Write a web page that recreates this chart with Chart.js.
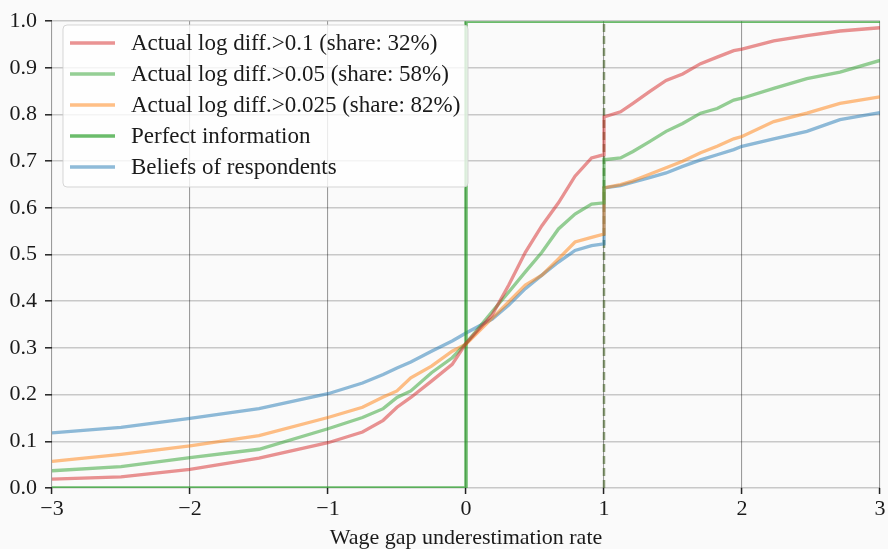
<!DOCTYPE html>
<html>
<head>
<meta charset="utf-8">
<script src="https://cdn.jsdelivr.net/npm/chart.js@4/dist/chart.umd.min.js"></script>
<style>
  html, body { margin: 0; padding: 0; background: #fafafa; }
  #wrap { width: 888px; height: 549px; position: relative; }
</style>
</head>
<body>
<div id="wrap"><canvas id="c" width="888" height="549"></canvas></div>
<script>
// ---- data ----
const xs = [-3, -2.5, -2, -1.5, -1, -0.75, -0.6, -0.5, -0.4, -0.25, -0.1, 0, 0.19, 0.31, 0.43, 0.55, 0.67, 0.79, 0.91, 1, 1, 1.12, 1.21, 1.33, 1.45, 1.57, 1.7, 1.82, 1.94, 2.0, 2.23, 2.47, 2.71, 3];
const diff10 = [0.019, 0.024, 0.040, 0.064, 0.097, 0.120, 0.145, 0.173, 0.194, 0.229, 0.265, 0.310, 0.371, 0.435, 0.505, 0.562, 0.611, 0.668, 0.707, 0.714, 0.795, 0.806, 0.824, 0.849, 0.873, 0.887, 0.909, 0.923, 0.937, 0.940, 0.958, 0.969, 0.979, 0.986];
const diff05 = [0.037, 0.046, 0.065, 0.083, 0.127, 0.151, 0.170, 0.194, 0.208, 0.247, 0.279, 0.310, 0.378, 0.420, 0.463, 0.505, 0.555, 0.587, 0.608, 0.611, 0.703, 0.707, 0.721, 0.742, 0.764, 0.781, 0.803, 0.813, 0.831, 0.835, 0.856, 0.877, 0.891, 0.916];
const diff025 = [0.057, 0.072, 0.090, 0.112, 0.151, 0.173, 0.195, 0.208, 0.236, 0.261, 0.293, 0.308, 0.364, 0.399, 0.435, 0.456, 0.491, 0.527, 0.537, 0.544, 0.643, 0.650, 0.658, 0.672, 0.686, 0.700, 0.718, 0.732, 0.748, 0.753, 0.785, 0.803, 0.824, 0.838];
const beliefs = [0.118, 0.130, 0.149, 0.170, 0.202, 0.225, 0.243, 0.257, 0.270, 0.293, 0.315, 0.332, 0.362, 0.392, 0.427, 0.456, 0.484, 0.509, 0.519, 0.523, 0.643, 0.648, 0.655, 0.665, 0.675, 0.689, 0.703, 0.714, 0.725, 0.732, 0.748, 0.764, 0.789, 0.804];
const perfectX = [-3, 0, 0, 3];
const perfectY = [0, 0, 1, 1];
const markerX = [1, 1];
const markerY = [0, 1];
const labels = [
  'Actual log diff.>0.1 (share: 32%)',
  'Actual log diff.>0.05 (share: 58%)',
  'Actual log diff.>0.025 (share: 82%)',
  'Perfect information',
  'Beliefs of respondents'
];
const xTicks = [-3, -2, -1, 0, 1, 2, 3];
const yTicks = [0, 0.1, 0.2, 0.3, 0.4, 0.5, 0.6, 0.7, 0.8, 0.9, 1.0];
const xTitle = 'Wage gap underestimation rate';

// ---- chart ----
const FONT = "'Liberation Serif', 'DejaVu Serif', serif";
const pts = (xa, ya) => xa.map((x, i) => ({ x: x, y: ya[i] }));

const colors = {
  red: 'rgba(214,39,40,0.5)',
  green: 'rgba(44,160,44,0.5)',
  orange: 'rgba(255,127,14,0.5)',
  perfect: 'rgba(44,160,44,0.7)',
  blue: 'rgba(31,119,180,0.5)',
  marker: 'rgba(70,100,40,0.6)'
};

const ds = (label, data, color, extra) => Object.assign({
  label: label, data: data, borderColor: color, backgroundColor: color,
  borderWidth: 3.3, pointRadius: 0, showLine: true, fill: false, tension: 0
}, extra || {});

const datasets = [
  ds(labels[0], pts(xs, diff10), colors.red),
  ds(labels[1], pts(xs, diff05), colors.green),
  ds(labels[2], pts(xs, diff025), colors.orange),
  ds(labels[3], pts(perfectX, perfectY), colors.perfect, { borderWidth: 3.5 }),
  ds(labels[4], pts(xs, beliefs), colors.blue),
  ds('', pts(markerX, markerY), colors.marker, { borderWidth: 2.5, borderDash: [8, 4], inLegend: false })
];

const legendPlugin = {
  id: 'innerLegend',
  afterDatasetsDraw(chart) {
    const ctx = chart.ctx;
    const x0 = 63, y0 = 25, w = 405, h = 162, r = 4;
    ctx.save();
    ctx.beginPath();
    ctx.moveTo(x0 + r, y0);
    ctx.arcTo(x0 + w, y0, x0 + w, y0 + h, r);
    ctx.arcTo(x0 + w, y0 + h, x0, y0 + h, r);
    ctx.arcTo(x0, y0 + h, x0, y0, r);
    ctx.arcTo(x0, y0, x0 + w, y0, r);
    ctx.closePath();
    ctx.fillStyle = 'rgba(255,255,255,0.8)';
    ctx.fill();
    ctx.strokeStyle = 'rgba(204,204,204,0.8)';
    ctx.lineWidth = 1;
    ctx.stroke();
    ctx.font = '23px ' + FONT;
    ctx.textBaseline = 'middle';
    ctx.fillStyle = '#1a1a1a';
    let row = 0;
    chart.data.datasets.forEach(d => {
      if (d.inLegend === false) return;
      const y = 43 + row * 31;
      ctx.strokeStyle = d.borderColor;
      ctx.lineWidth = 3.3;
      ctx.beginPath();
      ctx.moveTo(70, y);
      ctx.lineTo(115, y);
      ctx.stroke();
      ctx.fillText(d.label, 131, y + 1);
      row++;
    });
    ctx.restore();
  }
};

const bgPlugin = {
  id: 'bg',
  beforeDraw(chart) {
    const ctx = chart.ctx;
    ctx.save();
    ctx.fillStyle = '#fafafa';
    ctx.fillRect(0, 0, chart.width, chart.height);
    ctx.restore();
  }
};

const minus = v => (v < 0 ? '\u2212' + Math.abs(v) : String(v));

new Chart(document.getElementById('c'), {
  type: 'scatter',
  data: { datasets: datasets },
  plugins: [bgPlugin, legendPlugin],
  options: {
    responsive: false,
    animation: false,
    layout: { padding: { top: 17, right: 8, left: 0, bottom: 0 } },
    plugins: { legend: { display: false }, tooltip: { enabled: false } },
    scales: {
      x: {
        type: 'linear', min: -3, max: 3,
        afterFit(s) { s.height = 61; },
        afterBuildTicks(s) { s.ticks = xTicks.map(v => ({ value: v })); },
        border: { display: false },
        grid: { color: 'rgba(0,0,0,0.38)', lineWidth: 1.1, tickColor: '#222', tickWidth: 1.5, tickLength: 6 },
        ticks: { font: { family: FONT, size: 22 }, color: '#1a1a1a', padding: 2, maxRotation: 0, callback: v => minus(v) },
        title: { display: true, text: xTitle, font: { family: FONT, size: 22, lineHeight: 1 }, color: '#1a1a1a', padding: { top: 0, bottom: 0 } }
      },
      y: {
        type: 'linear', min: 0, max: 1,
        afterFit(s) { s.width = 52; },
        afterBuildTicks(s) { s.ticks = yTicks.map(v => ({ value: v })); },
        border: { display: false },
        grid: { color: 'rgba(0,0,0,0.2)', lineWidth: 1.6, tickColor: '#222', tickWidth: 1.5, tickLength: 7 },
        ticks: { font: { family: FONT, size: 22 }, color: '#1a1a1a', padding: 8, callback: v => v.toFixed(1) }
      }
    }
  }
});
</script>
</body>
</html>
